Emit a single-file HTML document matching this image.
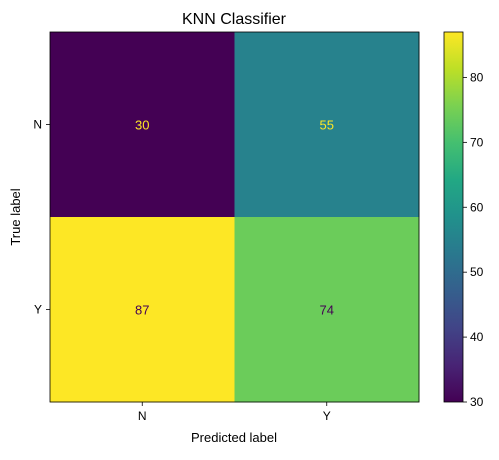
<!DOCTYPE html>
<html><head><meta charset="utf-8"><style>
body{margin:0;background:#fff;}
svg text{font-family:"Liberation Sans","DejaVu Sans",sans-serif;}
</style></head><body>
<svg id="chart" width="499" height="455">
<defs>
<linearGradient id="vir" x1="0" y1="1" x2="0" y2="0">
<stop offset="0" stop-color="#440154"/><stop offset="0.1" stop-color="#482475"/>
<stop offset="0.2" stop-color="#414487"/><stop offset="0.3" stop-color="#355f8d"/>
<stop offset="0.4" stop-color="#2a788e"/><stop offset="0.5" stop-color="#21918c"/>
<stop offset="0.6" stop-color="#22a884"/><stop offset="0.7" stop-color="#44bf70"/>
<stop offset="0.8" stop-color="#7ad151"/><stop offset="0.9" stop-color="#bddf26"/>
<stop offset="1" stop-color="#fde725"/>
</linearGradient>
</defs>
<text x="234" y="24" font-size="16" text-anchor="middle">KNN Classifier</text>
<g id="cells"></g>
<g id="axes"></g>
<rect x="444" y="32" width="19" height="370" fill="url(#vir)" stroke="#000" stroke-width="0.8"/>
<g id="cbticks"></g>
<text x="234" y="442" font-size="13" text-anchor="middle">Predicted label</text>
<text x="20" y="217" font-size="13" text-anchor="middle" transform="rotate(-90 20 217)">True label</text>
</svg>
<script>
const categories = ["N","Y"];
const values = [[30,55],[87,74]];
const cbTicks = [30,40,50,60,70,80];
const vmin = 30, vmax = 87;
const X0=50,X1=419,Y0=32,Y1=402;
const stops=[[0,"#440154"],[0.1,"#482475"],[0.2,"#414487"],[0.3,"#355f8d"],[0.4,"#2a788e"],[0.5,"#21918c"],[0.6,"#22a884"],[0.7,"#44bf70"],[0.8,"#7ad151"],[0.9,"#bddf26"],[1,"#fde725"]];
function hex(h){return [1,3,5].map(i=>parseInt(h.substr(i,2),16));}
function cmap(t){t=Math.max(0,Math.min(1,t));for(let i=0;i<stops.length-1;i++){if(t<=stops[i+1][0]){const f=(t-stops[i][0])/(stops[i+1][0]-stops[i][0]);const a=hex(stops[i][1]),b=hex(stops[i+1][1]);return "rgb("+a.map((v,k)=>Math.round(v+(b[k]-v)*f)).join(",")+")";}}return stops[stops.length-1][1];}
const NS="http://www.w3.org/2000/svg";
function mk(tag,attrs,parent){const e=document.createElementNS(NS,tag);for(const k in attrs)e.setAttribute(k,attrs[k]);parent.appendChild(e);return e;}
const n=categories.length, cw=(X1-X0)/n, ch=(Y1-Y0)/n;
const cells=document.getElementById('cells'), axes=document.getElementById('axes'), cbt=document.getElementById('cbticks');
const mid=(vmin+vmax)/2;
for(let r=0;r<n;r++)for(let c=0;c<n;c++){
 const v=values[r][c];
 const rect=mk('rect',{x:X0+c*cw,y:Y0+r*ch,width:cw+0.5,height:ch+0.5,fill:cmap((v-vmin)/(vmax-vmin))},cells);
 
 
 const t=mk('text',{x:X0+(c+0.5)*cw,y:Y0+(r+0.5)*ch+5,'font-size':13,'text-anchor':'middle',fill:v<mid?"#fde725":"#440154"},cells);
 t.textContent=v;
 
 
}
const fr=mk('rect',{x:X0,y:Y0,width:X1-X0,height:Y1-Y0,fill:'none',stroke:'#000','stroke-width':0.8},axes);


categories.forEach((cat,i)=>{
 const x=X0+(i+0.5)*cw;
 mk('line',{x1:x,x2:x,y1:Y1,y2:Y1+4,stroke:'#000','stroke-width':0.8},axes);
 const tx=mk('text',{x:x,y:Y1+18,'font-size':12,'text-anchor':'middle'},axes);
 tx.textContent=cat;
 
 
 const y=Y0+(i+0.5)*ch;
 mk('line',{x1:X0-4,x2:X0,y1:y,y2:y,stroke:'#000','stroke-width':0.8},axes);
 const ty=mk('text',{x:X0-8,y:y+4,'font-size':12,'text-anchor':'end'},axes);
 ty.textContent=cat;
 
 
});
cbTicks.forEach(v=>{
 const y=Y1-(v-vmin)/(vmax-vmin)*(Y1-Y0);
 mk('line',{x1:463,x2:467,y1:y,y2:y,stroke:'#000','stroke-width':0.8},cbt);
 const t=mk('text',{x:470,y:y+4,'font-size':12},cbt);
 t.textContent=v;
 
 
});
</script>
</body></html>
